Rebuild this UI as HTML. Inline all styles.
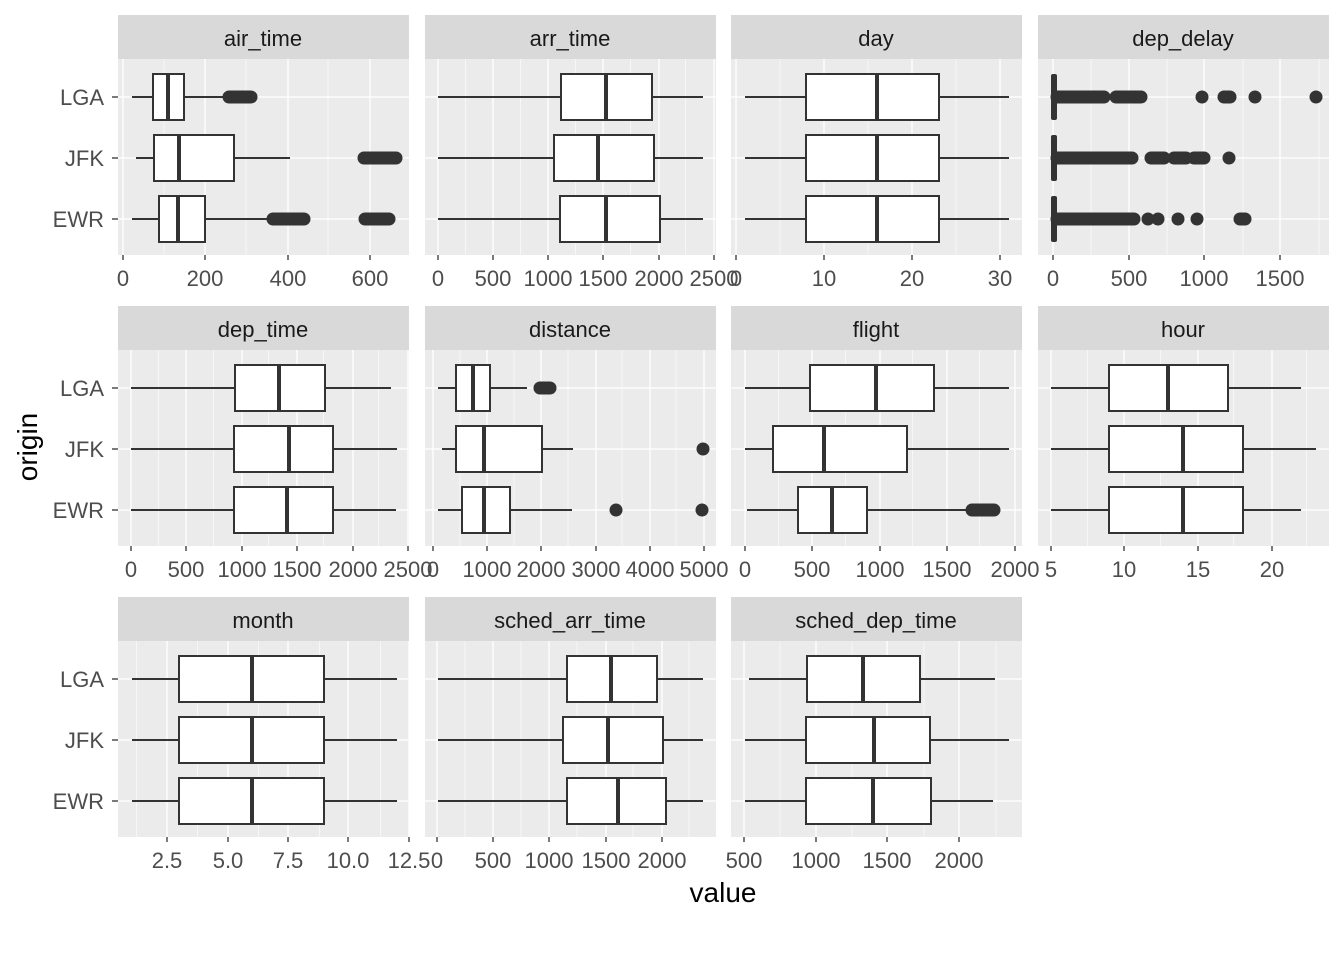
<!DOCTYPE html>
<html><head><meta charset="utf-8"><style>
html,body{margin:0;padding:0;background:#fff;}
svg{display:block;}
.tk{font-family:"Liberation Sans",sans-serif;font-size:22px;fill:#4D4D4D;text-anchor:middle;}
.yl{font-family:"Liberation Sans",sans-serif;font-size:22px;fill:#4D4D4D;text-anchor:end;}
.st{font-family:"Liberation Sans",sans-serif;font-size:22px;fill:#1A1A1A;text-anchor:middle;}
.ax{font-family:"Liberation Sans",sans-serif;font-size:28px;fill:#000;text-anchor:middle;}
</style></head><body>
<svg id="s" width="1344" height="960" xmlns="http://www.w3.org/2000/svg">
<rect width="1344" height="960" fill="#fff"/>
<g id="shapes"></g>
<text class="st" x="263" y="46">air_time</text>
<text class="st" x="570" y="46">arr_time</text>
<text class="st" x="876" y="46">day</text>
<text class="st" x="1183" y="46">dep_delay</text>
<text class="st" x="263" y="337">dep_time</text>
<text class="st" x="570" y="337">distance</text>
<text class="st" x="876" y="337">flight</text>
<text class="st" x="1183" y="337">hour</text>
<text class="st" x="263" y="628">month</text>
<text class="st" x="570" y="628">sched_arr_time</text>
<text class="st" x="876" y="628">sched_dep_time</text>
<text class="yl" x="104" y="105">LGA</text><text class="yl" x="104" y="166">JFK</text><text class="yl" x="104" y="227">EWR</text>
<text class="yl" x="104" y="396">LGA</text><text class="yl" x="104" y="457">JFK</text><text class="yl" x="104" y="518">EWR</text>
<text class="yl" x="104" y="687">LGA</text><text class="yl" x="104" y="748">JFK</text><text class="yl" x="104" y="809">EWR</text>
<text class="tk" x="123" y="286">0</text><text class="tk" x="205" y="286">200</text><text class="tk" x="288" y="286">400</text><text class="tk" x="370" y="286">600</text>
<text class="tk" x="438" y="286">0</text><text class="tk" x="493" y="286">500</text><text class="tk" x="548" y="286">1000</text><text class="tk" x="603" y="286">1500</text><text class="tk" x="659" y="286">2000</text><text class="tk" x="714" y="286">2500</text>
<text class="tk" x="736" y="286">0</text><text class="tk" x="824" y="286">10</text><text class="tk" x="912" y="286">20</text><text class="tk" x="1000" y="286">30</text>
<text class="tk" x="1053" y="286">0</text><text class="tk" x="1129" y="286">500</text><text class="tk" x="1204" y="286">1000</text><text class="tk" x="1280" y="286">1500</text>
<text class="tk" x="131" y="577">0</text><text class="tk" x="186" y="577">500</text><text class="tk" x="242" y="577">1000</text><text class="tk" x="297" y="577">1500</text><text class="tk" x="353" y="577">2000</text><text class="tk" x="408" y="577">2500</text>
<text class="tk" x="433" y="577">0</text><text class="tk" x="487" y="577">1000</text><text class="tk" x="541" y="577">2000</text><text class="tk" x="596" y="577">3000</text><text class="tk" x="650" y="577">4000</text><text class="tk" x="704" y="577">5000</text>
<text class="tk" x="745" y="577">0</text><text class="tk" x="812" y="577">500</text><text class="tk" x="880" y="577">1000</text><text class="tk" x="947" y="577">1500</text><text class="tk" x="1015" y="577">2000</text>
<text class="tk" x="1051" y="577">5</text><text class="tk" x="1124" y="577">10</text><text class="tk" x="1198" y="577">15</text><text class="tk" x="1272" y="577">20</text>
<text class="tk" x="167" y="868">2.5</text><text class="tk" x="228" y="868">5.0</text><text class="tk" x="288" y="868">7.5</text><text class="tk" x="348" y="868">10.0</text><text class="tk" x="409" y="868">12.5</text>
<text class="tk" x="437" y="868">0</text><text class="tk" x="493" y="868">500</text><text class="tk" x="549" y="868">1000</text><text class="tk" x="606" y="868">1500</text><text class="tk" x="662" y="868">2000</text>
<text class="tk" x="744" y="868">500</text><text class="tk" x="816" y="868">1000</text><text class="tk" x="887" y="868">1500</text><text class="tk" x="959" y="868">2000</text>
<text class="ax" x="723" y="902">value</text>
<text class="ax" transform="translate(37,447) rotate(-90)">origin</text>
</svg>
<script>
var NS="http://www.w3.org/2000/svg";var G=document.getElementById("shapes");
function el(t,a){var e=document.createElementNS(NS,t);for(var k in a)e.setAttribute(k,a[k]);G.appendChild(e);return e;}
var cols=[[118,409],[425,716],[731,1022],[1038,1329]];
var rowsY=[[15,59,255],[306,350,546],[597,641,837]];
var P=[
[0,0,[123,205,288,370],[[132,223,153,184,168,[[223,257]]],[136,290,154,234,179,[[358,402]]],[132,267,159,205,178,[[267,310],[359,395]]]]],
[1,0,[438,493,548,603,659,714],[[438,703,561,652,606,[]],[438,703,554,654,598,[]],[438,703,560,660,606,[]]]],
[2,0,[736,824,912,1000],[[745,1009,806,939,877,[]],[745,1009,806,939,877,[]],[745,1009,806,939,877,[]]]],
[3,0,[1053,1129,1204,1280],[[1051,1057,1051,1057,1054,[[1051,1110],[1110,1128],[1118,1147],[1196,1208],[1218,1236],[1249,1261],[1310,1322]]],[1051,1057,1051,1057,1054,[[1051,1138],[1145,1170],[1168,1192],[1188,1210],[1223,1235]]],[1051,1057,1051,1057,1054,[[1051,1140],[1142,1154],[1152,1164],[1172,1184],[1191,1203],[1234,1251]]]]],
[0,1,[131,186,242,297,353,408],[[131,391,235,325,279,[]],[131,397,234,333,289,[]],[131,396,234,333,287,[]]]],
[1,1,[433,487,541,596,650,704],[[438,527,456,490,473,[[534,556]]],[442,573,456,542,484,[[697,709]]],[438,572,462,510,484,[[610,622],[696,708]]]]],
[2,1,[745,812,880,947,1015],[[745,1009,810,934,876,[]],[745,1009,773,907,824,[]],[747,968,798,867,832,[[966,1000]]]]],
[3,1,[1051,1124,1198,1272],[[1051,1301,1109,1228,1168,[]],[1051,1316,1109,1243,1183,[]],[1051,1301,1109,1243,1183,[]]]],
[0,2,[167,228,288,348,409],[[132,397,179,324,252,[]],[132,397,179,324,252,[]],[132,397,179,324,252,[]]]],
[1,2,[437,493,549,606,662],[[438,703,567,657,611,[]],[438,703,563,663,608,[]],[438,703,567,666,618,[]]]],
[2,2,[744,816,887,959],[[749,995,807,920,863,[]],[745,1009,806,930,874,[]],[745,993,806,931,873,[]]]]
];
P.forEach(function(p){
 var c=cols[p[0]],r=rowsY[p[1]],x0=c[0],x1=c[1];
 el("rect",{x:x0,y:r[0],width:x1-x0,height:r[1]-r[0],fill:"#D9D9D9"});
 el("rect",{x:x0,y:r[1],width:x1-x0,height:r[2]-r[1],fill:"#EBEBEB"});
 var t=p[2],d=t[1]-t[0];var m=[];
 for(var i=-1;i<t.length;i++){var v=t[0]+d*(i+0.5);if(v>x0&&v<x1)m.push(v);}
 m.forEach(function(v){el("line",{x1:v,x2:v,y1:r[1],y2:r[2],stroke:"#fff","stroke-width":0.6});});
 t.forEach(function(v){if(v>=x0&&v<=x1)el("line",{x1:v,x2:v,y1:r[1],y2:r[2],stroke:"#fff","stroke-width":1.3});
  el("line",{x1:v,x2:v,y1:r[2],y2:r[2]+5,stroke:"#333","stroke-width":1.3});});
 var ys=[r[1]+38,r[1]+99,r[1]+160];
 ys.forEach(function(y){el("line",{x1:x0,x2:x1,y1:y,y2:y,stroke:"#fff","stroke-width":1.3});
  if(p[0]==0)el("line",{x1:x0-6,x2:x0,y1:y,y2:y,stroke:"#333","stroke-width":1.3});});
 p[3].forEach(function(b,i){var y=ys[i];
  el("line",{x1:b[0],x2:b[1],y1:y,y2:y,stroke:"#333","stroke-width":2});
  if(b[3]-b[2]<10){el("rect",{x:b[2],y:y-23,width:b[3]-b[2],height:46,fill:"#333",rx:2});}
  else{el("rect",{x:b[2],y:y-23,width:b[3]-b[2],height:46,fill:"#fff",stroke:"#333","stroke-width":2});
  el("line",{x1:b[4],x2:b[4],y1:y-23,y2:y+23,stroke:"#333","stroke-width":4});}
  b[5].forEach(function(cl){var a=cl[0]+6,e=cl[1]-6;if(e<a){a=e=(cl[0]+cl[1])/2;}
   el("line",{x1:a,x2:e+0.01,y1:y,y2:y,stroke:"#333","stroke-width":13,"stroke-linecap":"round"});});
 });
});
</script>
</body></html>
